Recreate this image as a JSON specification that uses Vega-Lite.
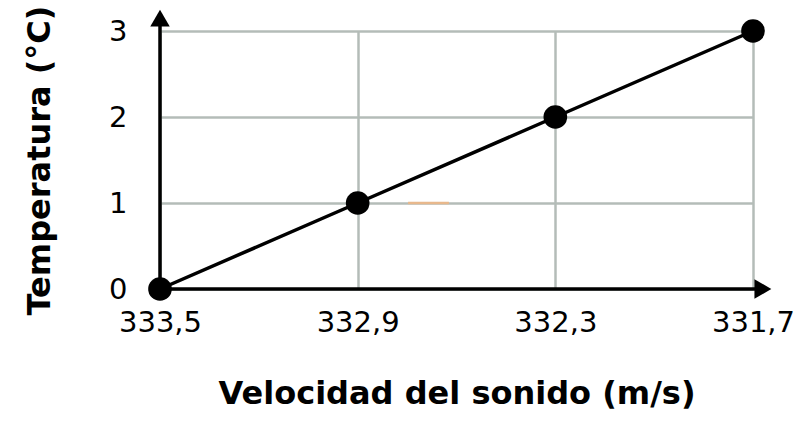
{
  "$schema": "https://vega.github.io/schema/vega-lite/v6.json",
  "width": 593,
  "height": 258,
  "autosize": {"type": "none"},
  "padding": {"left": 160, "top": 31, "right": 47, "bottom": 141},
  "background": "white",
  "config": {"view": {"stroke": null}, "font": "DejaVu Sans"},
  "datasets": {
    "pts": [
      {"velocidad": 333.5, "temperatura": 0},
      {"velocidad": 332.9, "temperatura": 1},
      {"velocidad": 332.3, "temperatura": 2},
      {"velocidad": 331.7, "temperatura": 3}
    ],
    "axes": [
      {"x": 333.5, "y": 0, "x2": 331.67, "y2": 0},
      {"x": 333.5, "y": 0, "x2": 333.5, "y2": 3.15}
    ],
    "heads": [
      {"x": 331.67, "y": 0, "shape": "triangle-right"},
      {"x": 333.5, "y": 3.15, "shape": "triangle-up"}
    ],
    "mark": [
      {"x": 332.747, "x2": 332.623, "y": 1}
    ]
  },
  "layer": [
    {
      "data": {"name": "pts"},
      "mark": {"type": "point", "opacity": 0},
      "encoding": {
        "x": {
          "field": "velocidad", "type": "quantitative",
          "scale": {"domain": [331.7, 333.5], "reverse": true, "nice": false, "zero": false},
          "axis": {
            "values": [333.5, 332.9, 332.3, 331.7],
            "labelExpr": "replace(format(datum.value, '.1f'), '.', ',')",
            "title": "Velocidad del sonido (m/s)",
            "titleFontSize": 32, "titleFontWeight": "bold", "titleColor": "black",
            "titlePadding": 41,
            "labelFontSize": 29, "labelColor": "black", "labelPadding": 19,
            "labelFlush": false,
            "grid": true, "gridColor": "#b4bcb8", "gridWidth": 2.5,
            "domain": false, "ticks": false
          }
        },
        "y": {
          "field": "temperatura", "type": "quantitative",
          "scale": {"domain": [0, 3], "nice": false},
          "axis": {
            "values": [0, 1, 2, 3],
            "format": "d",
            "title": "Temperatura (°C)",
            "titleFontSize": 32, "titleFontWeight": "bold", "titleColor": "black",
            "titlePadding": 52,
            "labelFontSize": 29, "labelColor": "black", "labelPadding": 33,
            "grid": true, "gridColor": "#b4bcb8", "gridWidth": 2.5,
            "domain": false, "ticks": false
          }
        }
      }
    },
    {
      "data": {"name": "mark"},
      "mark": {"type": "rule", "color": "#e8b88c", "strokeWidth": 2.5},
      "encoding": {
        "x": {"field": "x", "type": "quantitative"},
        "x2": {"field": "x2"},
        "y": {"field": "y", "type": "quantitative"}
      }
    },
    {
      "data": {"name": "axes"},
      "mark": {"type": "rule", "color": "black", "strokeWidth": 3.5, "clip": false},
      "encoding": {
        "x": {"field": "x", "type": "quantitative"},
        "x2": {"field": "x2"},
        "y": {"field": "y", "type": "quantitative"},
        "y2": {"field": "y2"}
      }
    },
    {
      "data": {"name": "heads"},
      "mark": {"type": "point", "filled": true, "color": "black", "opacity": 1, "size": 380, "clip": false},
      "encoding": {
        "x": {"field": "x", "type": "quantitative"},
        "y": {"field": "y", "type": "quantitative"},
        "shape": {"field": "shape", "type": "nominal", "scale": null, "legend": null}
      }
    },
    {
      "data": {"name": "pts"},
      "mark": {"type": "line", "color": "black", "strokeWidth": 3.5, "clip": false},
      "encoding": {
        "x": {"field": "velocidad", "type": "quantitative"},
        "y": {"field": "temperatura", "type": "quantitative"}
      }
    },
    {
      "data": {"name": "pts"},
      "mark": {"type": "circle", "color": "black", "opacity": 1, "size": 560, "clip": false},
      "encoding": {
        "x": {"field": "velocidad", "type": "quantitative"},
        "y": {"field": "temperatura", "type": "quantitative"}
      }
    }
  ]
}
